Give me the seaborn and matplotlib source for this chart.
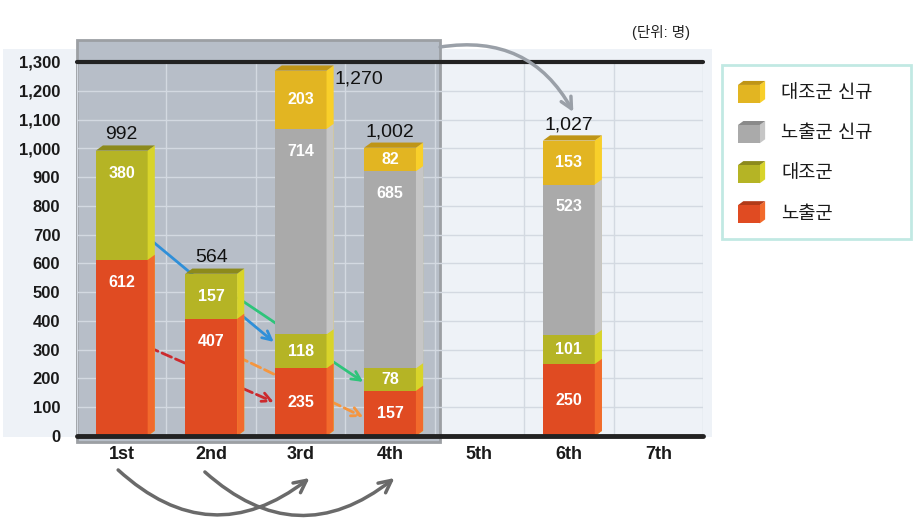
import numpy as np
import pandas as pd
import matplotlib
matplotlib.use("Agg")
import matplotlib.pyplot as plt
import seaborn as sns
from matplotlib.patches import Rectangle, Polygon, Patch
from matplotlib.legend_handler import HandlerBase
from matplotlib.ticker import FuncFormatter

# ---------------- data ----------------
rounds = ["1st", "2nd", "3rd", "4th", "5th", "6th", "7th"]
exposed = [612, 407, 235, 157, 0, 250, 0]        # 노출군
control = [380, 157, 118, 78, 0, 101, 0]         # 대조군
exposed_new = [0, 0, 714, 685, 0, 523, 0]        # 노출군 신규
control_new = [0, 0, 203, 82, 0, 153, 0]         # 대조군 신규
series_names = ["노출군", "대조군", "노출군 신규", "대조군 신규"]
yticks = list(range(0, 1301, 100))
unit_label = "(단위: 명)"

# follow-up flow arrows (from round, to round, y at start, y at end)
flow_from = ["1st", "2nd", "1st", "2nd"]
flow_to = ["3rd", "4th", "3rd", "4th"]
flow_from_y = [688, 480, 309, 275]
flow_to_y = [327, 188, 118, 66]
flow_colors = ["#2f8fd8", "#2ec47a", "#cc2a2e", "#f5963f"]
flow_styles = ["-", "-", "--", "--"]

# ---------------- style ----------------
sns.set_style("white")
plt.rcParams["font.family"] = ["Liberation Sans", "Noto Sans CJK KR", "DejaVu Sans"]

colors = {"노출군": "#e04b22", "대조군": "#b5b425",
          "노출군 신규": "#aaaaaa", "대조군 신규": "#e2b522"}
side_colors = {"노출군": "#f26a2c", "대조군": "#d8d42a",
               "노출군 신규": "#c6c6c6", "대조군 신규": "#f8cf2a"}
top_colors = {"노출군": "#b23a18", "대조군": "#8c8a1c",
              "노출군 신규": "#8a8a8a", "대조군 신규": "#bf9516"}

values = {"노출군": exposed, "대조군": control,
          "노출군 신규": exposed_new, "대조군 신규": control_new}

rows = []
for i, r in enumerate(rounds):
    bottom = 0
    for s in series_names:
        v = values[s][i]
        rows.append(dict(round=r, series=s, value=v, bottom=bottom, top=bottom + v))
        bottom += v
df = pd.DataFrame(rows)
totals = df.groupby("round", sort=False)["value"].sum().reindex(rounds)

W, H = 913, 519
fig = plt.figure(figsize=(W / 100, H / 100), dpi=100)
fig.patch.set_facecolor("white")

# light panel behind the whole plot including y labels
fig.patches.append(Rectangle((3 / W, (H - 437) / H), 709 / W, 388 / H,
                             transform=fig.transFigure, facecolor="#eef2f7",
                             edgecolor="none", zorder=-1))

ax = fig.add_axes([77 / W, (H - 436) / H, 626 / W, 374 / H])
ax.set_facecolor("#eef2f7")
ax.set_xlim(-0.5, 6.5)
ax.set_ylim(0, 1300)

# gray highlight box over rounds 1-4
ax.add_patch(Rectangle((-0.5, -21), 4.06, 1397, facecolor="#b7bec8",
                       edgecolor="#9c9fa3", lw=2, zorder=0.3, clip_on=False))

# grid
ax.set_axisbelow(True)
ax.set_yticks(yticks)
ax.yaxis.set_major_formatter(FuncFormatter(lambda v, p: f"{int(v):,}"))
ax.set_xticks(np.arange(-0.5, 7, 1), minor=True)
ax.grid(axis="y", which="major", color="#d3d9e1", lw=1)
ax.grid(axis="x", which="minor", color="#d3d9e1", lw=1)
for sp in ax.spines.values():
    sp.set_visible(False)

# bars: draw cumulative layers from top series down
BW = 0.58
DX, DY = 0.08, 18
for s in reversed(series_names):
    sub = df[df.series == s]
    n0 = len(ax.patches)
    sns.barplot(data=sub, x="round", y="top", order=rounds, color=colors[s],
                saturation=1, width=BW, errorbar=None, ax=ax, zorder=2,
                linewidth=0)
    new = ax.patches[n0:]
    for p, (_, row) in zip(new, sub.iterrows()):
        if row.value <= 0:
            continue
        x0, w, t = p.get_x(), p.get_width(), row.top
        ax.add_patch(Polygon([(x0 + w, 0), (x0 + w + DX, DY), (x0 + w + DX, t + DY),
                              (x0 + w, t)], closed=True, facecolor=side_colors[s],
                             edgecolor="none", zorder=2))

# top caps for each bar
for i, r in enumerate(rounds):
    sub = df[(df["round"] == r) & (df.value > 0)]
    if sub.empty:
        continue
    last = sub.iloc[-1]
    t = last.top
    x0 = i - BW / 2
    ax.add_patch(Polygon([(x0, t), (x0 + DX, t + DY), (x0 + BW + DX, t + DY),
                          (x0 + BW, t)], closed=True, facecolor=top_colors[last.series],
                         edgecolor="none", zorder=2.1))

# segment labels
for _, row in df[df.value > 0].iterrows():
    i = rounds.index(row["round"])
    y = row.top - 78 if row.value > 250 else (row.bottom + row.top) / 2
    ax.text(i, y, f"{row.value}", ha="center", va="center", color="white",
            fontsize=11.5, fontweight="bold", zorder=5)

# totals
for i, r in enumerate(rounds):
    t = totals[r]
    if t <= 0:
        continue
    if t + 60 > 1300:
        ax.text(i + 0.38, t - 30, f"{t:,}", ha="left", va="center",
                fontsize=14, color="#111111", zorder=5)
    else:
        ax.text(i, t + 55, f"{t:,}", ha="center", va="center",
                fontsize=14, color="#111111", zorder=5)

# flow arrows (under bars)
for fr, to, y0, y1, c, ls in zip(flow_from, flow_to, flow_from_y, flow_to_y,
                                 flow_colors, flow_styles):
    i0, i1 = rounds.index(fr), rounds.index(to)
    ax.annotate("", xy=(i1 - 0.3, y1), xytext=(i0 + 0.3, y0),
                arrowprops=dict(arrowstyle="->", color=c, lw=2, linestyle=ls,
                                shrinkA=0, shrinkB=0, mutation_scale=16),
                zorder=1.5)

# axis lines
ax.axhline(1300, color="#222222", lw=3, zorder=3, clip_on=False)
ax.axhline(0, color="#222222", lw=3.5, zorder=3, clip_on=False)

# curved gray arrow from highlight box to 6th round
ax.annotate("", xy=(5.05, 1126), xytext=(3.56, 1352),
            arrowprops=dict(arrowstyle="->", color="#9aa0a8", lw=2.5,
                            connectionstyle="arc3,rad=-0.35", shrinkA=0, shrinkB=0,
                            mutation_scale=20),
            annotation_clip=False, zorder=4)
# bottom curved arrows
for a, b, ya, yb in [(-0.04, 2.1, -118, -146), (0.93, 3.05, -125, -146)]:
    ax.annotate("", xy=(b, yb), xytext=(a, ya),
                arrowprops=dict(arrowstyle="->", color="#6a6a6a", lw=2.5,
                                connectionstyle="arc3,rad=0.42", shrinkA=0, shrinkB=0,
                                mutation_scale=22),
                annotation_clip=False, zorder=4)

ax.set_xlabel("")
ax.set_ylabel("")
ax.tick_params(axis="x", which="both", length=0, pad=7, labelsize=13, labelcolor="#1a1a1a")
ax.tick_params(axis="y", length=0, pad=12, labelsize=12, labelcolor="#1a1a1a")
for lab in ax.get_xticklabels() + ax.get_yticklabels():
    lab.set_fontweight("bold")

fig.text(661 / W, (H - 32) / H, unit_label, ha="center", va="center",
         fontsize=10.5, color="#222222")


class CubeHandler(HandlerBase):
    def create_artists(self, legend, orig_handle, xdescent, ydescent, width,
                       height, fontsize, trans):
        s = orig_handle.get_label()
        x0, y0 = -xdescent, -ydescent
        fw, fh = width * 0.8, height * 0.82
        dx, dy = width - fw, height - fh
        face = Rectangle((x0, y0), fw, fh, facecolor=colors[s], edgecolor="none",
                         transform=trans)
        side = Polygon([(x0 + fw, y0), (x0 + width, y0 + dy), (x0 + width, y0 + height),
                        (x0 + fw, y0 + fh)], closed=True, facecolor=side_colors[s],
                       edgecolor="none", transform=trans)
        top = Polygon([(x0, y0 + fh), (x0 + dx, y0 + height), (x0 + width, y0 + height),
                       (x0 + fw, y0 + fh)], closed=True, facecolor=top_colors[s],
                      edgecolor="none", transform=trans)
        return [side, top, face]


handles = [Patch(facecolor=colors[s], edgecolor="none", label=s)
           for s in reversed(series_names)]
leg = fig.legend(handles=handles, loc="upper left",
                 bbox_to_anchor=(722 / W, (H - 244) / H, 189 / W, 179 / H),
                 mode="expand", frameon=True, fancybox=False, fontsize=13.5,
                 handlelength=1.45, handleheight=1.45, labelspacing=0.95,
                 handletextpad=0.85, borderpad=0.85, borderaxespad=0,
                 handler_map={Patch: CubeHandler()})
leg.get_frame().set_edgecolor("#b2e4dc")
leg.get_frame().set_linewidth(2)
for t in leg.get_texts():
    t.set_color("#1a1a1a")

fig.savefig("out.png", dpi=100)
